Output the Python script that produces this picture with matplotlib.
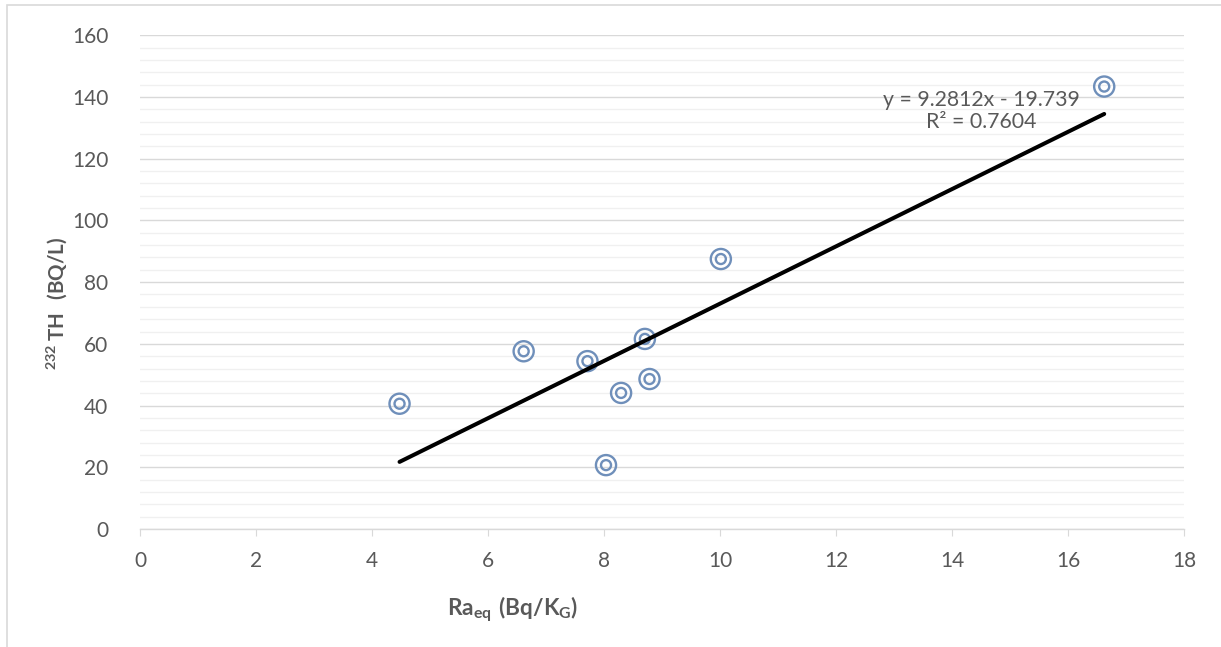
import numpy as np
import matplotlib
matplotlib.use("Agg")
import matplotlib.pyplot as plt
from matplotlib.patches import Rectangle
from matplotlib.ticker import MultipleLocator

plt.rcParams['font.family'] = ['Lato', 'DejaVu Sans']
plt.rcParams['mathtext.fontset'] = 'custom'
plt.rcParams['mathtext.rm'] = 'Lato'
plt.rcParams['mathtext.bf'] = 'Lato:bold'

# data
ra_eq = [4.47, 6.61, 7.71, 8.70, 8.29, 8.78, 8.03, 10.01, 16.62]
th232 = [40.6, 57.6, 54.4, 61.6, 44.1, 48.6, 20.7, 87.5, 143.4]

# linear trendline as printed on the chart
slope = 9.2812
intercept = -19.739
r_squared = 0.7604

grey_text = "#595959"
marker_col = "#6f8fba"

fig = plt.figure(figsize=(12.21, 6.47), dpi=100)
ax = fig.add_axes([0.1149, 0.1824, 0.855, 0.763])

# chart border
fig.patches.append(Rectangle((7 / 1221, -0.2), 1.5, 1.2 - 5 / 647,
                             transform=fig.transFigure, fill=False,
                             edgecolor="#d9d9d9", linewidth=1.2))

# double circle markers
ax.scatter(ra_eq, th232, s=210, facecolors="none", edgecolors=marker_col,
           linewidths=1.7, zorder=3)
ax.scatter(ra_eq, th232, s=52, facecolors="none", edgecolors=marker_col,
           linewidths=1.7, zorder=3)

# trendline
xs = np.array([min(ra_eq), max(ra_eq)])
ax.plot(xs, slope * xs + intercept, color="black", linewidth=2.9,
        solid_capstyle="round", zorder=4)

ax.text(14.5, 142.3, f"y = {slope}x - {abs(intercept)}\nR² = {r_squared}",
        ha="center", va="top", fontsize=15.3, color=grey_text,
        linespacing=1.1, zorder=5)

ax.set_xlim(0, 18)
ax.set_ylim(0, 160)
ax.xaxis.set_major_locator(MultipleLocator(2))
ax.yaxis.set_major_locator(MultipleLocator(20))
ax.yaxis.set_minor_locator(MultipleLocator(4))

ax.grid(which="major", axis="y", color="#d9d9d9", linewidth=1.0)
ax.grid(which="minor", axis="y", color="#f0f0f0", linewidth=1.0)
ax.set_axisbelow(True)

for s in ["top", "right", "left"]:
    ax.spines[s].set_visible(False)
ax.spines["bottom"].set_color("#d9d9d9")
ax.spines["bottom"].set_linewidth(1.0)

ax.tick_params(axis="x", which="major", length=5, color="#d9d9d9",
               labelsize=15, labelcolor=grey_text, pad=11)
ax.tick_params(axis="y", which="both", length=0, labelsize=15,
               labelcolor=grey_text, pad=23)

ax.set_xlabel(r"$\mathbf{Ra_{eq}\ (Bq/K_G)}$", fontsize=16.3, color=grey_text)
ax.xaxis.set_label_coords(0.357, -0.133)
ax.set_ylabel(r"$\mathbf{^{232}\,TH\ \ (BQ/L)}$", fontsize=14.8, color=grey_text)
ax.yaxis.set_label_coords(-0.068, 0.457)

fig.savefig("out.png", dpi=100)
